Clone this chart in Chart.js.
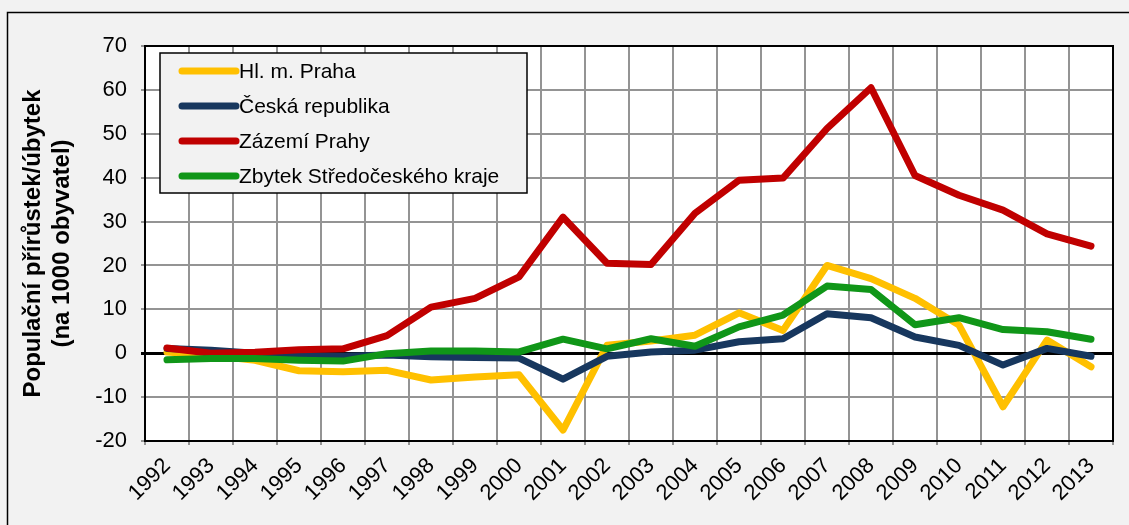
<!DOCTYPE html>
<html>
<head>
<meta charset="utf-8">
<script src="https://cdn.jsdelivr.net/npm/chart.js@4/dist/chart.umd.min.js"></script>
<style>
  html, body { margin: 0; padding: 0; background: #f2f2f2; }
  #wrap { width: 1129px; height: 525px; position: relative; }
</style>
</head>
<body>
<div id="wrap"><canvas id="popChart" width="1129" height="525"></canvas></div>
<script>
// Data
const years = ['1992', '1993', '1994', '1995', '1996', '1997', '1998', '1999', '2000', '2001', '2002',
  '2003', '2004', '2005', '2006', '2007', '2008', '2009', '2010', '2011', '2012', '2013'];
const praha = [0.3, -0.5, -1.6, -4.0, -4.2, -3.9, -6.1, -5.4, -4.9, -17.5, 1.8,
  2.8, 4.1, 9.2, 5.2, 20.0, 17.0, 12.5, 6.4, -12.2, 3.0, -3.1];
const ceskaRepublika = [1.1, 0.7, 0.0, -0.5, -0.7, -0.4, -0.8, -1.0, -1.1, -5.9, -0.7,
  0.3, 0.7, 2.6, 3.3, 9.0, 8.1, 3.7, 1.8, -2.7, 1.1, -0.7];
const zazemiPrahy = [1.2, 0.0, 0.2, 0.8, 1.0, 4.0, 10.5, 12.5, 17.4, 31.0, 20.5,
  20.2, 31.9, 39.4, 39.9, 51.2, 60.5, 40.5, 36.0, 32.6, 27.2, 24.4];
const zbytekKraje = [-1.5, -1.2, -1.2, -1.6, -1.8, -0.1, 0.5, 0.5, 0.3, 3.2, 1.0,
  3.3, 1.6, 6.0, 8.7, 15.3, 14.5, 6.5, 8.1, 5.4, 4.9, 3.2];
const seriesNames = ['Hl. m. Praha', 'Česká republika', 'Zázemí Prahy', 'Zbytek Středočeského kraje'];
const yTicks = { min: -20, max: 70, step: 10 };

const FONT = "'Liberation Sans', Arial, sans-serif";

// background, frame, white plot area
const backgroundPlugin = {
  id: 'background',
  beforeDraw(chart) {
    const ctx = chart.ctx;
    const a = chart.chartArea;
    ctx.save();
    ctx.fillStyle = '#f2f2f2';
    ctx.fillRect(0, 0, chart.width, chart.height);
    ctx.strokeStyle = '#000';
    ctx.lineWidth = 1.5;
    ctx.strokeRect(7.5, 12.5, chart.width + 20, chart.height + 20);
    ctx.fillStyle = '#ffffff';
    ctx.fillRect(a.left, a.top, a.right - a.left, a.bottom - a.top);
    ctx.restore();
  },
  afterDatasetsDraw(chart) {
    const ctx = chart.ctx;
    const a = chart.chartArea;
    ctx.save();
    ctx.strokeStyle = '#000';
    ctx.lineWidth = 2;
    ctx.strokeRect(a.left, a.top, a.right - a.left, a.bottom - a.top);
    ctx.restore();
  }
};

// legend box inside the plot, as in the original
const boxLegendPlugin = {
  id: 'boxLegend',
  afterDraw(chart) {
    const ctx = chart.ctx;
    const a = chart.chartArea;
    const x = a.left + 15, y = a.top + 7, w = 367, h = 140;
    ctx.save();
    ctx.fillStyle = '#f2f2f2';
    ctx.fillRect(x, y, w, h);
    ctx.strokeStyle = '#000';
    ctx.lineWidth = 1.5;
    ctx.strokeRect(x, y, w, h);
    ctx.font = '21px ' + FONT;
    ctx.textBaseline = 'middle';
    ctx.fillStyle = '#000';
    chart.data.datasets.forEach((ds, i) => {
      const rowY = y + 18 + i * 35;
      ctx.strokeStyle = ds.borderColor;
      ctx.lineWidth = 7;
      ctx.lineCap = 'round';
      ctx.beginPath();
      ctx.moveTo(x + 22, rowY);
      ctx.lineTo(x + 76, rowY);
      ctx.stroke();
      ctx.fillText(ds.label, x + 79, rowY + 1);
    });
    ctx.restore();
  }
};

function lineSet(label, data, color, order) {
  return {
    label: label,
    data: data,
    borderColor: color,
    backgroundColor: color,
    borderWidth: 7,
    pointRadius: 0,
    tension: 0,
    borderCapStyle: 'round',
    borderJoinStyle: 'round',
    order: order
  };
}

const ctx = document.getElementById('popChart').getContext('2d');
const popChart = new Chart(ctx, {
  type: 'line',
  data: {
    labels: years,
    datasets: [
      lineSet(seriesNames[0], praha, '#ffc000', 3),
      lineSet(seriesNames[1], ceskaRepublika, '#17375e', 2),
      lineSet(seriesNames[2], zazemiPrahy, '#c00000', 1),
      lineSet(seriesNames[3], zbytekKraje, '#109618', 0)
    ]
  },
  options: {
    responsive: false,
    animation: false,
    layout: { padding: { top: 46, right: 16, left: 0, bottom: 0 } },
    plugins: {
      legend: { display: false },
      tooltip: { enabled: false }
    },
    scales: {
      x: {
        offset: true,
        grid: {
          offset: true,
          color: '#949494',
          lineWidth: 2,
          tickLength: 4
        },
        border: { color: '#000', width: 2 },
        ticks: {
          color: '#000',
          font: { family: FONT, size: 22 },
          minRotation: 45,
          maxRotation: 45,
          autoSkip: false,
          padding: 8
        },
        afterFit(scale) { scale.height = 84; }
      },
      y: {
        min: yTicks.min,
        max: yTicks.max,
        grid: {
          color: c => (c.tick && c.tick.value === 0 ? '#000' : '#949494'),
          lineWidth: c => (c.tick && c.tick.value === 0 ? 3 : 2),
          tickLength: 4
        },
        border: { color: '#000', width: 2 },
        ticks: {
          stepSize: yTicks.step,
          color: '#000',
          font: { family: FONT, size: 22 },
          padding: 14
        },
        title: {
          display: true,
          text: ['Populační přírůstek/úbytek', '(na 1000 obyvatel)'],
          color: '#000',
          font: { family: FONT, size: 24, weight: 'bold', lineHeight: 1.2 },
          padding: { top: 19, bottom: 0 }
        },
        afterFit(scale) { scale.width = 145; }
      }
    }
  },
  plugins: [backgroundPlugin, boxLegendPlugin]
});
</script>
</body>
</html>
